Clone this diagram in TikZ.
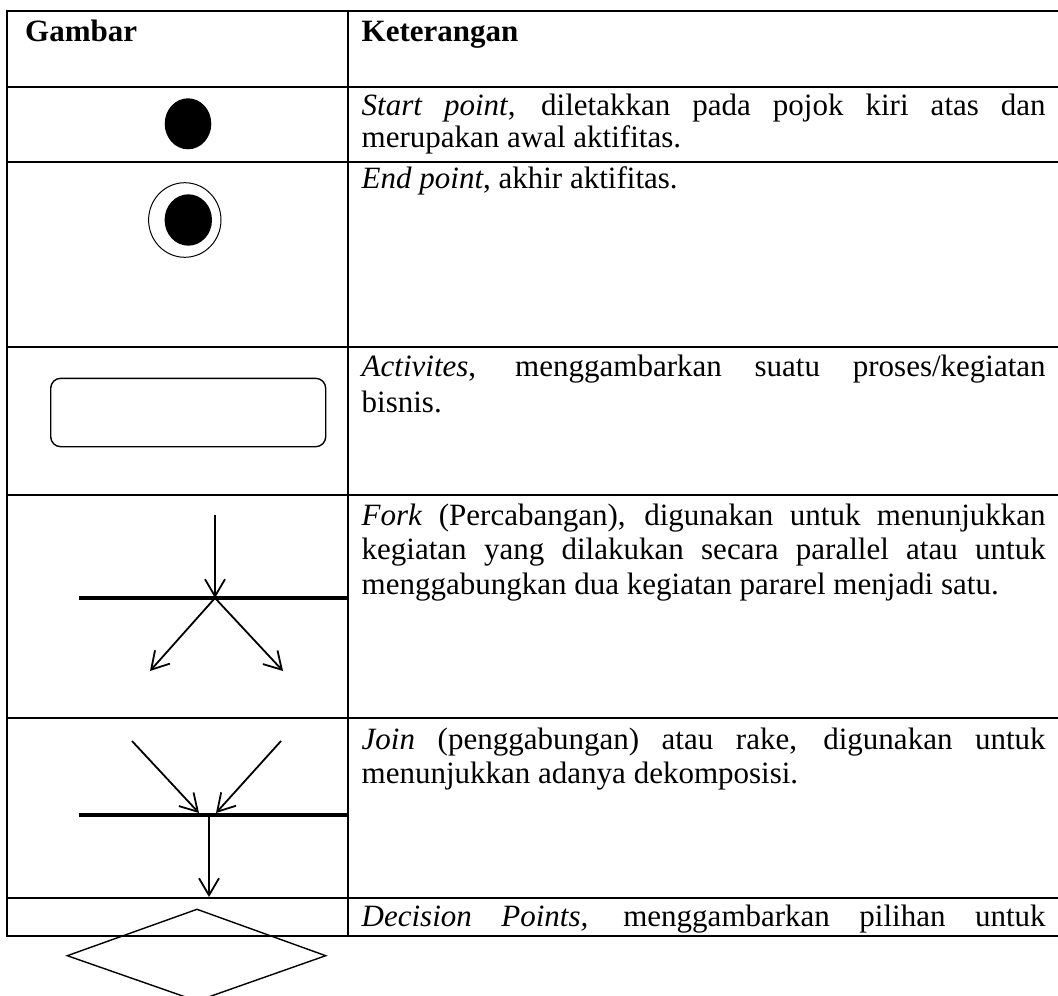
\documentclass[tikz,border=0pt]{standalone}
\usepackage{fontspec}
\setmainfont{Liberation Serif}
\usetikzlibrary{arrows.meta,shapes.geometric}
\newcommand{\jl}[1]{\makebox[684pt][s]{#1}}
\begin{document}
\begin{tikzpicture}[x=1pt,y=-1pt,
  grid/.style={line width=2pt},
  txt/.style={anchor=base west,inner sep=0pt,font=\fontsize{31}{35}\selectfont},
  arr/.style={line width=1.8pt,-{Straight Barb[length=17pt,width=20pt]}},
  syncbar/.style={line width=4pt},
  shp/.style={line width=1.4pt}]
\clip (0,0) rectangle (1058,996);
% table
\coordinate (tl) at (6.7,11);
\coordinate (bl) at (6.7,935.5);
\coordinate (tm) at (347.7,11);
\coordinate (bm) at (347.7,935.5);
\draw[grid] (tl) -- (bl);
\draw[grid] (tm) -- (bm);
\foreach \y in {11,87,162,347,495,718,898,935.5}
  \draw[grid] (5.7,\y) -- (1060,\y);
% header
\node[txt] (h1) at (25,41.7) {\textbf{Gambar}};
\node[txt] (h2) at (361.5,41.7) {\textbf{Keterangan}};
% start
\node[ellipse,fill=black,inner sep=0pt,minimum width=46.6pt,minimum height=51pt] (start) at (188,123.8) {};
\node[txt] (s1) at (361.5,115.7) {\jl{\textit{Start point}, diletakkan pada pojok kiri atas dan}};
\node[txt] (s2) at (361.5,147.3) {merupakan awal aktifitas.};
% end
\node[ellipse,draw,line width=1pt,inner sep=0pt,minimum width=72.4pt,minimum height=74.6pt] (endo) at (184.8,220) {};
\node[ellipse,fill=black,inner sep=0pt,minimum width=47.4pt,minimum height=51.4pt] (endi) at (188.3,220) {};
\node[txt] (e1) at (361.5,188) {\textit{End point}, akhir aktifitas.};
% activity
\node[draw,shp,rounded corners=10pt,minimum width=275pt,minimum height=68.4pt,inner sep=0pt] (act) at (188.2,412.5) {};
\node[txt] (a1) at (361.5,376.7) {\jl{\textit{Activites}, menggambarkan suatu proses/kegiatan}};
\node[txt] (a2) at (361.5,412.7) {bisnis.};
% fork
\coordinate (fktop) at (215,515);
\coordinate (fkc) at (215,598);
\coordinate (fkl) at (150,671);
\coordinate (fkr) at (283,671);
\coordinate (fkb1) at (79,598);
\coordinate (fkb2) at (349,598);
\draw[syncbar] (fkb1) -- (fkb2);
\draw[arr] (fktop) -- (fkc);
\draw[arr] (fkc) -- (fkl);
\draw[arr] (fkc) -- (fkr);
\node[txt] (f1) at (361.5,525) {\jl{\textit{Fork} (Percabangan), digunakan untuk menunjukkan}};
\node[txt] (f2) at (361.5,559.5) {\jl{kegiatan yang dilakukan secara parallel atau untuk}};
\node[txt] (f3) at (361.5,594) {menggabungkan dua kegiatan pararel menjadi satu.};
% join
\coordinate (jl1) at (132,741);
\coordinate (jr1) at (281,741);
\coordinate (jtl) at (199,813);
\coordinate (jtr) at (216,813);
\coordinate (jb1) at (79,815);
\coordinate (jb2) at (349,815);
\coordinate (jc) at (209,815);
\coordinate (jout) at (209,897);
\draw[syncbar] (jb1) -- (jb2);
\draw[arr] (jl1) -- (jtl);
\draw[arr] (jr1) -- (jtr);
\draw[arr] (jc) -- (jout);
\node[txt] (j1) at (361.5,749) {\jl{\textit{Join} (penggabungan) atau rake, digunakan untuk}};
\node[txt] (j2) at (361.5,783.5) {menunjukkan adanya dekomposisi.};
% decision
\coordinate (dt) at (197,909.3);
\coordinate (dl) at (67.3,955.7);
\coordinate (dr) at (325.7,955.7);
\coordinate (db) at (197,1001);
\draw[shp] (dt) -- (dr) -- (db) -- (dl) -- cycle;
\node[txt] (d1) at (361.5,926.7) {\jl{\textit{Decision Points,} menggambarkan pilihan untuk}};
\end{tikzpicture}
\end{document}
